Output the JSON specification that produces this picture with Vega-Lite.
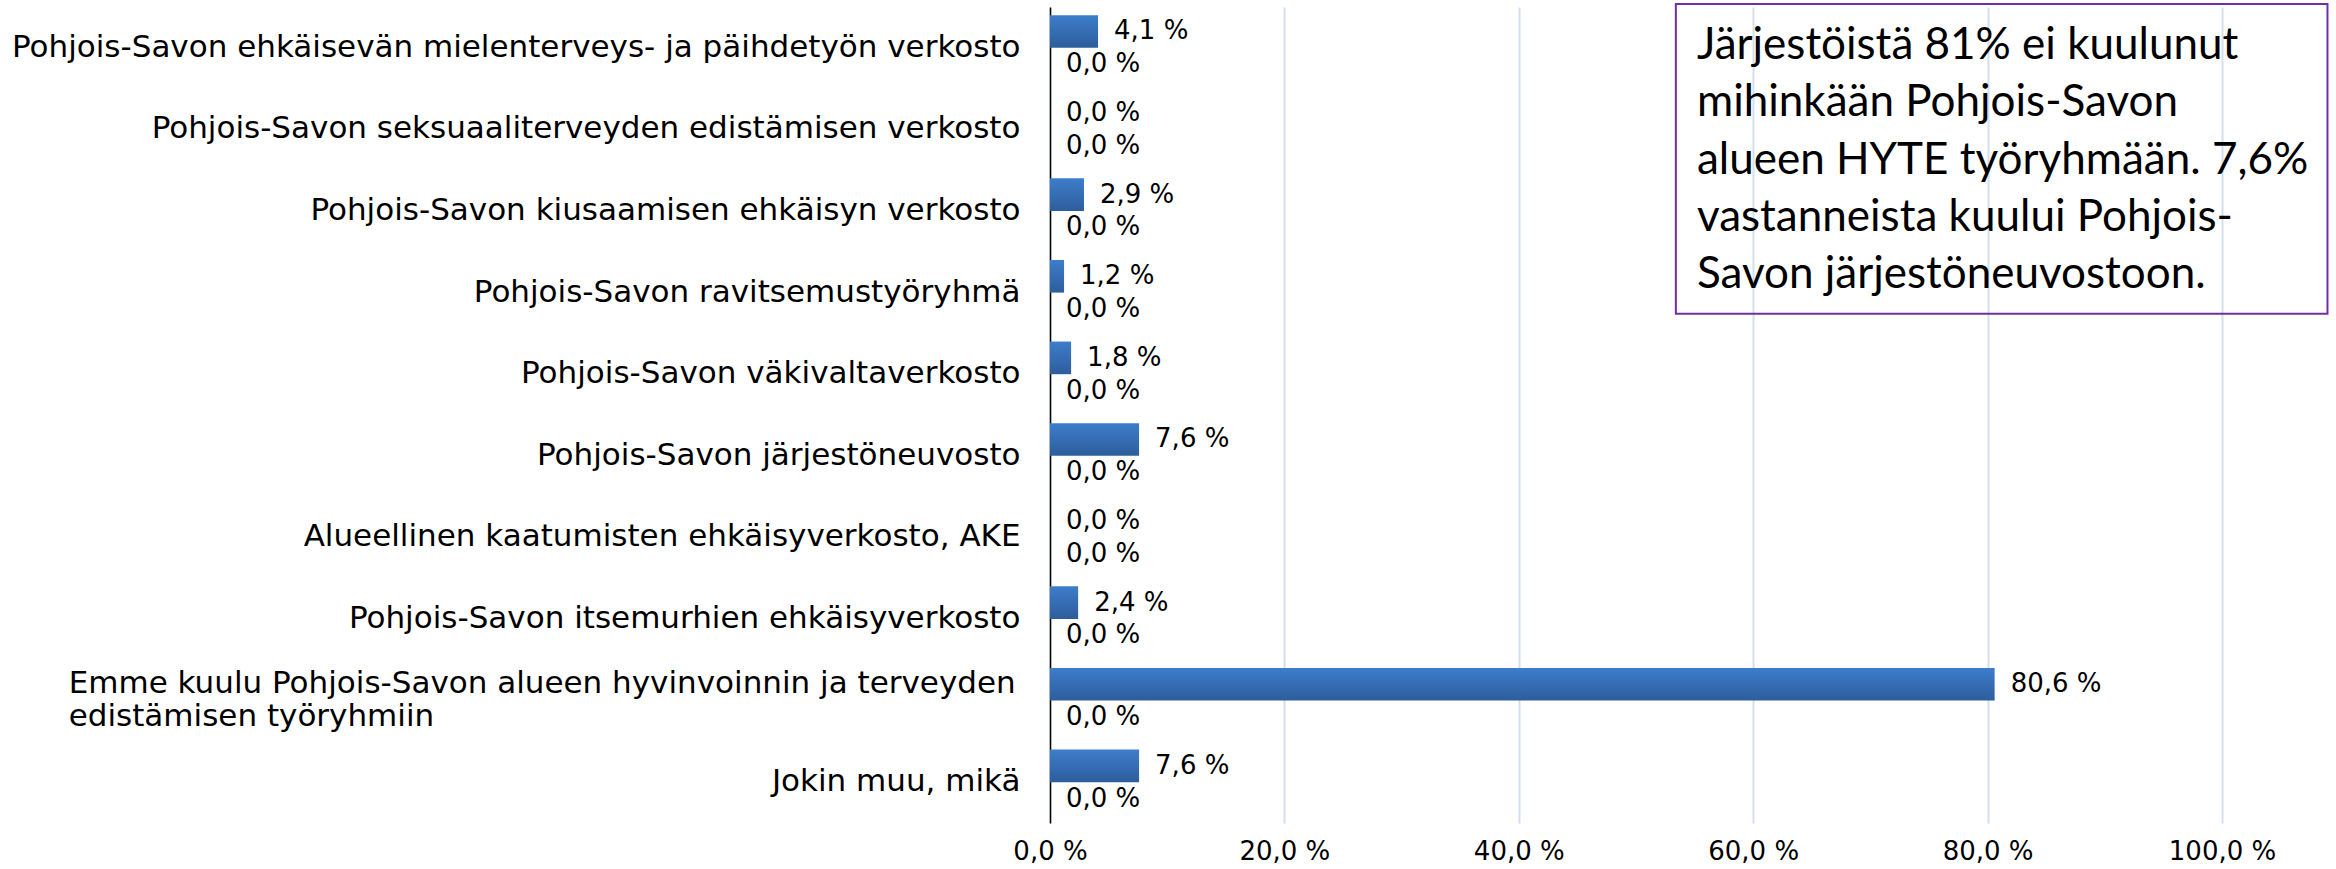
{
  "$schema": "https://vega.github.io/schema/vega-lite/v6.json",
  "autosize": {"type": "none"},
  "width": 1172,
  "height": 816,
  "padding": {"left": 1050, "top": 7, "right": 114, "bottom": 46},
  "background": "white",
  "config": {
    "view": {"stroke": null},
    "locale": {"number": {"decimal": ",", "thousands": "\u00a0", "grouping": [3], "currency": ["", "\u00a0€"], "percent": "\u00a0%"}},
    "axis": {"gridColor": "#D3DFEF", "gridWidth": 2}
  },
  "datasets": {
    "bars": [
      {"category": "Pohjois-Savon ehkäisevän mielenterveys- ja päihdetyön verkosto", "series": "Sarja 1", "value": 0.041},
      {"category": "Pohjois-Savon ehkäisevän mielenterveys- ja päihdetyön verkosto", "series": "Sarja 2", "value": 0},
      {"category": "Pohjois-Savon seksuaaliterveyden edistämisen verkosto", "series": "Sarja 1", "value": 0},
      {"category": "Pohjois-Savon seksuaaliterveyden edistämisen verkosto", "series": "Sarja 2", "value": 0},
      {"category": "Pohjois-Savon kiusaamisen ehkäisyn verkosto", "series": "Sarja 1", "value": 0.029},
      {"category": "Pohjois-Savon kiusaamisen ehkäisyn verkosto", "series": "Sarja 2", "value": 0},
      {"category": "Pohjois-Savon ravitsemustyöryhmä", "series": "Sarja 1", "value": 0.012},
      {"category": "Pohjois-Savon ravitsemustyöryhmä", "series": "Sarja 2", "value": 0},
      {"category": "Pohjois-Savon väkivaltaverkosto", "series": "Sarja 1", "value": 0.018},
      {"category": "Pohjois-Savon väkivaltaverkosto", "series": "Sarja 2", "value": 0},
      {"category": "Pohjois-Savon järjestöneuvosto", "series": "Sarja 1", "value": 0.076},
      {"category": "Pohjois-Savon järjestöneuvosto", "series": "Sarja 2", "value": 0},
      {"category": "Alueellinen kaatumisten ehkäisyverkosto, AKE", "series": "Sarja 1", "value": 0},
      {"category": "Alueellinen kaatumisten ehkäisyverkosto, AKE", "series": "Sarja 2", "value": 0},
      {"category": "Pohjois-Savon itsemurhien ehkäisyverkosto", "series": "Sarja 1", "value": 0.024},
      {"category": "Pohjois-Savon itsemurhien ehkäisyverkosto", "series": "Sarja 2", "value": 0},
      {"category": "Emme kuulu Pohjois-Savon alueen hyvinvoinnin ja terveyden edistämisen työryhmiin", "series": "Sarja 1", "value": 0.806},
      {"category": "Emme kuulu Pohjois-Savon alueen hyvinvoinnin ja terveyden edistämisen työryhmiin", "series": "Sarja 2", "value": 0},
      {"category": "Jokin muu, mikä", "series": "Sarja 1", "value": 0.076},
      {"category": "Jokin muu, mikä", "series": "Sarja 2", "value": 0}
    ]
  },
  "layer": [
    {
      "layer": [
        {
          "data": {"name": "bars"},
          "mark": {
            "type": "bar",
            "color": {"gradient": "linear", "x1": 0, "y1": 0, "x2": 0, "y2": 1, "stops": [{"offset": 0, "color": "#3E7DCB"}, {"offset": 1, "color": "#2D5D9C"}]}
          },
          "encoding": {
            "y": {
              "field": "category", "type": "nominal", "sort": null,
              "scale": {"paddingInner": 0.2, "paddingOuter": 0.1},
              "axis": {
                "title": null, "ticks": false, "domain": true, "domainColor": "#000000", "domainWidth": 1.5,
                "labelFont": "DejaVu Sans", "labelFontSize": 31, "labelColor": "#000000", "labelPadding": 30, "labelLimit": 0,
                "labelExpr": "datum.value == 'Emme kuulu Pohjois-Savon alueen hyvinvoinnin ja terveyden edistämisen työryhmiin' ? '' : datum.label"
              }
            },
            "yOffset": {"field": "series", "type": "nominal", "sort": null, "scale": {"paddingInner": 0, "paddingOuter": 0}},
            "x": {
              "field": "value", "type": "quantitative",
              "scale": {"domain": [0, 1], "nice": false},
              "axis": {
                "title": null, "domain": false, "ticks": false, "grid": true, "labelFlush": false,
                "values": [0, 0.2, 0.4, 0.6, 0.8, 1], "format": ".1%",
                "labelFont": "DejaVu Sans", "labelFontSize": 26, "labelColor": "#000000", "labelPadding": 15
              }
            }
          }
        },
        {
          "data": {"name": "bars"},
          "mark": {"type": "text", "align": "left", "baseline": "middle", "dx": 16, "font": "DejaVu Sans", "fontSize": 26, "color": "#000000"},
          "encoding": {
            "y": {"field": "category", "type": "nominal", "sort": null},
            "yOffset": {"field": "series", "type": "nominal", "sort": null},
            "x": {"field": "value", "type": "quantitative", "scale": {"domain": [0, 1], "nice": false}},
            "text": {"field": "value", "type": "quantitative", "format": ".1%"}
          }
        },
        {
          "data": {"values": [{"category": "Emme kuulu Pohjois-Savon alueen hyvinvoinnin ja terveyden edistämisen työryhmiin", "label": "Emme kuulu Pohjois-Savon alueen hyvinvoinnin ja terveyden\nedistämisen työryhmiin"}]},
          "mark": {"type": "text", "align": "left", "baseline": "middle", "dy": -16.5, "lineBreak": "\n", "lineHeight": 33, "font": "DejaVu Sans", "fontSize": 31, "color": "#000000"},
          "encoding": {
            "y": {"field": "category", "type": "nominal", "sort": null},
            "x": {"datum": -0.8373, "type": "quantitative", "scale": {"domain": [0, 1], "nice": false}},
            "text": {"field": "label", "type": "nominal"}
          }
        }
      ]
    },
    {
      "data": {"values": [{"note": "Järjestöistä 81% ei kuulunut\nmihinkään Pohjois-Savon\nalueen HYTE työryhmään. 7,6%\nvastanneista kuului Pohjois-\nSavon järjestöneuvostoon."}]},
      "layer": [
        {
          "mark": {"type": "rect", "fill": null, "fillOpacity": 0, "stroke": "#7030A0", "strokeWidth": 2},
          "encoding": {
            "x": {"datum": 0.534, "type": "quantitative", "scale": {"domain": [0, 1], "nice": false}},
            "x2": {"datum": 1.09},
            "y": {"datum": -0.37, "type": "quantitative", "scale": {"domain": [0, 100], "reverse": true, "nice": false}, "axis": null},
            "y2": {"datum": 37.6}
          }
        },
        {
          "mark": {"type": "text", "align": "left", "baseline": "alphabetic", "lineBreak": "\n", "lineHeight": 57.3, "font": "Lato", "fontSize": 44, "color": "#000000"},
          "encoding": {
            "x": {"datum": 0.552, "type": "quantitative", "scale": {"domain": [0, 1], "nice": false}},
            "y": {"datum": 6.37, "type": "quantitative", "scale": {"domain": [0, 100], "reverse": true, "nice": false}, "axis": null},
            "text": {"field": "note", "type": "nominal"}
          }
        }
      ]
    }
  ],
  "resolve": {"scale": {"y": "independent"}}
}
